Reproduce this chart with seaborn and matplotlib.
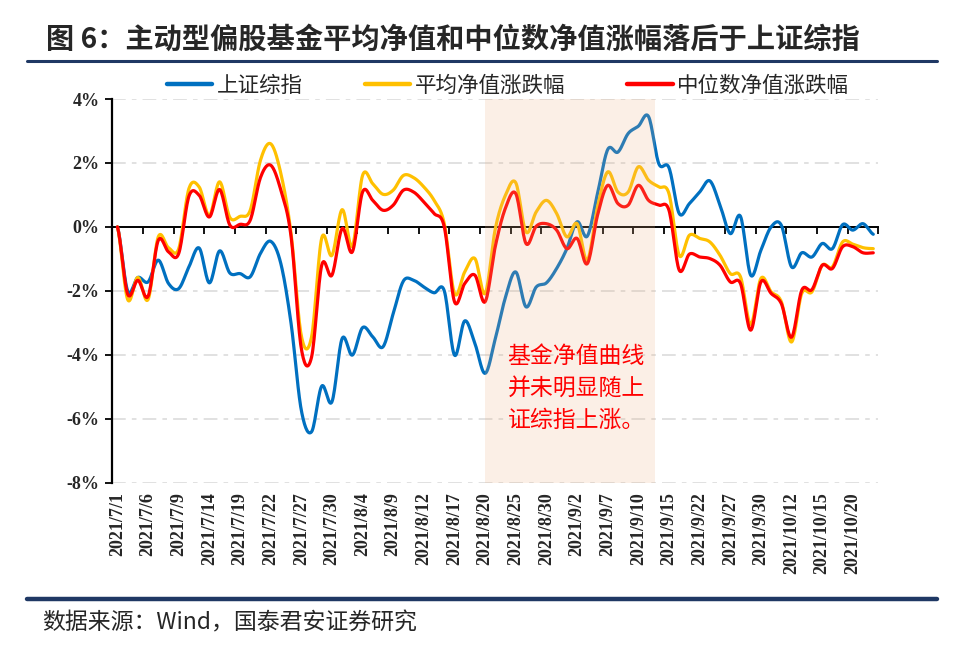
import numpy as np
import matplotlib
matplotlib.use("Agg")
import matplotlib.pyplot as plt
from matplotlib.lines import Line2D
import seaborn as sns

# 数据：交易日序号 0..74（2021/7/1 - 2021/10/22），单位 %
sh_index = [0, -2.0, -1.58, -1.72, -1.04, -1.77, -1.93, -1.25, -0.66, -1.75,
            -0.75, -1.44, -1.46, -1.56, -0.83, -0.45, -1.15, -3.02, -5.73, -6.41,
            -4.98, -5.47, -3.49, -4.01, -3.15, -3.44, -3.75, -2.71, -1.69, -1.67,
            -1.88, -2.06, -2.0, -4.01, -2.94, -3.65, -4.58, -3.49, -2.19, -1.41,
            -2.5, -1.88, -1.75, -1.30, -0.68, 0.16, -0.29, 1.04, 2.42, 2.34,
            2.92, 3.15, 3.45, 1.98, 1.85, 0.42, 0.73, 1.09, 1.44, 0.68,
            -0.21, 0.33, -1.51, -0.73, 0.0, 0.05, -1.25, -0.81, -0.94, -0.52,
            -0.68, 0.07, -0.1, 0.1, -0.23]
avg_nav = [0, -2.27, -1.58, -2.27, -0.31, -0.65, -0.68, 1.2, 1.25, 0.36,
           1.41, 0.3, 0.33, 0.52, 2.08, 2.6, 1.67, -0.21, -3.4, -3.45,
           -0.35, -0.89, 0.54, -0.6, 1.61, 1.35, 1.02, 1.15, 1.61, 1.54,
           1.25, 0.83, 0.1, -2.08, -1.41, -0.99, -2.08, -0.05, 1.0, 1.38,
           -0.16, 0.47, 0.83, 0.42, -0.31, 0.1, -1.04, 0.62, 1.72, 1.09,
           1.09, 1.88, 1.46, 1.25, 1.04, -0.89, -0.26, -0.36, -0.47, -0.89,
           -1.46, -1.56, -3.05, -1.61, -2.03, -2.34, -3.6, -2.08, -2.03, -1.2,
           -1.25, -0.47, -0.54, -0.65, -0.68]
med_nav = [0, -2.1, -1.67, -2.17, -0.42, -0.78, -0.83, 0.96, 0.99, 0.31,
           1.17, 0.06, 0.08, 0.21, 1.54, 1.93, 1.15, -0.3, -3.8, -4.08,
           -1.2, -1.51, -0.05, -0.78, 1.09, 0.83, 0.52, 0.68, 1.15, 1.09,
           0.78, 0.42, 0.0, -2.34, -1.77, -1.51, -2.34, -0.6, 0.6, 1.04,
           -0.52, 0.02, 0.1, -0.1, -0.68, -0.36, -1.15, 0.36, 1.3, 0.73,
           0.68, 1.3, 0.83, 0.68, 0.52, -1.35, -0.85, -0.94, -0.99, -1.2,
           -1.72, -1.77, -3.23, -1.72, -2.08, -2.4, -3.45, -1.98, -1.96, -1.2,
           -1.3, -0.62, -0.62, -0.81, -0.81]

date_labels = ["2021/7/1", "2021/7/6", "2021/7/9", "2021/7/14", "2021/7/19",
               "2021/7/22", "2021/7/27", "2021/7/30", "2021/8/4", "2021/8/9",
               "2021/8/12", "2021/8/17", "2021/8/20", "2021/8/25", "2021/8/30",
               "2021/9/2", "2021/9/7", "2021/9/10", "2021/9/15", "2021/9/22",
               "2021/9/27", "2021/9/30", "2021/10/12", "2021/10/15", "2021/10/20"]
label_step = 3
y_ticks = [4, 2, 0, -2, -4, -6, -8]
shade_span = (36, 52.6)  # 8/20 起至 9/13 前后

series = [("上证综指", sh_index, "#0070C0"),
          ("平均净值涨跌幅", avg_nav, "#FFC000"),
          ("中位数净值涨跌幅", med_nav, "#FF0000")]


def smooth(y, steps=16):
    # Catmull-Rom，模仿 Excel 平滑线
    y = np.asarray(y, dtype=float)
    p = np.concatenate([[y[0]], y, [y[-1]]])
    t = np.linspace(0, 1, steps, endpoint=False)
    xs, ys = [], []
    for i in range(len(y) - 1):
        p0, p1, p2, p3 = p[i], p[i + 1], p[i + 2], p[i + 3]
        seg = 0.5 * (2 * p1 + (-p0 + p2) * t + (2 * p0 - 5 * p1 + 4 * p2 - p3) * t ** 2
                     + (-p0 + 3 * p1 - 3 * p2 + p3) * t ** 3)
        xs.append(i + t)
        ys.append(seg)
    xs.append([len(y) - 1])
    ys.append([y[-1]])
    return np.concatenate(xs), np.concatenate(ys)


sns.set_theme(style="white")
plt.rcParams["font.family"] = ["Noto Sans CJK SC", "DejaVu Sans"]
plt.rcParams["axes.unicode_minus"] = False
serif = ["Liberation Serif", "DejaVu Serif"]

fig = plt.figure(figsize=(9.56, 6.57), dpi=100)
ax = fig.add_axes([0.1175, 0.2653, 0.8013, 0.5840])

n = len(sh_index)
for name, vals, color in series:
    xs, ys = smooth(vals)
    sns.lineplot(x=xs, y=ys, ax=ax, color=color, linewidth=2.3, sort=False,
                 legend=False, zorder=3)

ax.set_xlim(-0.5, n - 0.5)
ax.set_ylim(-8, 4)

# 网格线（点划线）
ax.set_yticks(y_ticks)
ax.set_yticklabels([f"{v}%" for v in y_ticks], fontfamily=serif,
                   fontweight="bold", fontsize=13)
ax.yaxis.grid(True, color="#D9D9D9", linewidth=1.1, linestyle=(0, (9, 4, 3, 4)))
ax.xaxis.grid(False)
ax.tick_params(axis="y", direction="out", length=5, width=1.3, color="black",
               left=True, pad=4)

for s in ["top", "right"]:
    ax.spines[s].set_visible(False)
ax.spines["left"].set_color("black")
ax.spines["left"].set_linewidth(1.6)
ax.spines["bottom"].set_position(("data", 0))
ax.spines["bottom"].set_color("black")
ax.spines["bottom"].set_linewidth(1.4)

# 分类轴刻度在类别之间
ax.set_xticks(np.arange(label_step - 0.5, n, label_step))
ax.tick_params(axis="x", direction="out", length=5, width=1.3, color="black",
               bottom=True, labelbottom=False)

sec = ax.secondary_xaxis("bottom")
sec.set_xticks(np.arange(0, len(date_labels) * label_step, label_step))
sec.set_xticklabels(date_labels, rotation=90, fontfamily=serif,
                    fontweight="bold", fontsize=13, va="top", ha="center")
sec.tick_params(axis="x", length=0, pad=7)
sec.spines["bottom"].set_visible(False)

ax.axvspan(*shade_span, color="#EBAF82", alpha=0.2, linewidth=0, zorder=5)

ax.text(44.9, -5.05, "基金净值曲线\n并未明显随上\n证综指上涨。", color="#FF0000",
        fontsize=16.5, ha="center", va="center", linespacing=1.5, zorder=6)

handles = [Line2D([0], [0], color=c, linewidth=3.2) for _, _, c in series]
fig.legend(handles, [s[0] for s in series], loc="center",
           bbox_to_anchor=(508 / 956, 1 - 86 / 657), ncol=3, frameon=False,
           fontsize=15.5, handlelength=2.1, handletextpad=0.2, columnspacing=2.9)

fig.text(46 / 956, 1 - 40 / 657, "图 6：主动型偏股基金平均净值和中位数净值涨幅落后于上证综指",
         fontsize=20.3, fontweight="bold", ha="left", va="center")
fig.add_artist(Line2D([27 / 956, 937 / 956], [1 - 61 / 657] * 2, color="#1F3864",
                      linewidth=2.2, transform=fig.transFigure))
fig.add_artist(Line2D([27 / 956, 937 / 956], [1 - 599 / 657] * 2, color="#1F3864",
                      linewidth=3.2, transform=fig.transFigure))
fig.text(42 / 956, 1 - 623 / 657, "数据来源：Wind，国泰君安证券研究",
         fontsize=16.5, ha="left", va="center")

fig.savefig("out.png", dpi=100)
